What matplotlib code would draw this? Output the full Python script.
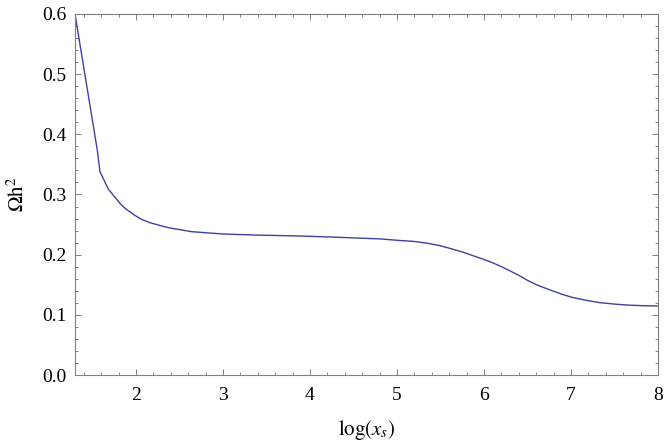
import numpy as np
import matplotlib.pyplot as plt
from matplotlib import rcParams
from matplotlib.ticker import MultipleLocator

rcParams['font.family'] = ['Liberation Serif', 'DejaVu Serif']
rcParams['mathtext.fontset'] = 'stix'

# curve: log(x_s) vs relic density
log_xs = [1.30, 1.556, 1.587, 1.683, 1.75, 1.817, 1.875, 1.970, 2.06, 2.162,
          2.373, 2.641, 3.005, 3.4, 3.886, 4.3, 4.806, 5.036, 5.19, 5.35,
          5.495, 5.62, 5.764, 5.92, 6.07, 6.185, 6.30, 6.415, 6.492, 6.62,
          6.76, 6.90, 7.028, 7.18, 7.334, 7.49, 7.64, 7.82, 8.0]
omega_h2 = [0.600, 0.374, 0.338, 0.309, 0.297, 0.2853, 0.277, 0.267, 0.259, 0.2531,
            0.2448, 0.2382, 0.2343, 0.2325, 0.231, 0.229, 0.2262, 0.2235, 0.2221, 0.219,
            0.2149, 0.210, 0.2039, 0.196, 0.1883, 0.1811, 0.173, 0.1645, 0.1579, 0.149,
            0.1413, 0.134, 0.1285, 0.124, 0.1202, 0.118, 0.1163, 0.1152, 0.1147]

line_color = '#4040a0'
frame_color = '#808080'

fig = plt.figure(figsize=(6.64, 4.46), dpi=100)
ax = fig.add_axes([75 / 664, 71 / 446, 583 / 664, 361 / 446])

ax.plot(log_xs, omega_h2, color=line_color, linewidth=1.0)

ax.set_xlim(1.3, 8)
ax.set_ylim(0, 0.6)

ax.xaxis.set_major_locator(MultipleLocator(1))
ax.xaxis.set_minor_locator(MultipleLocator(0.2))
ax.yaxis.set_major_locator(MultipleLocator(0.1))
ax.yaxis.set_minor_locator(MultipleLocator(0.02))
ax.yaxis.set_major_formatter(plt.FuncFormatter(lambda v, p: f'{v:.1f}'))

for s in ax.spines.values():
    s.set_color(frame_color)
    s.set_linewidth(0.8)

ax.tick_params(which='both', direction='in', top=True, right=True,
               color=frame_color, width=0.7, labelsize=14)
ax.tick_params(which='major', length=4.5)
ax.tick_params(which='minor', length=2.5)
ax.tick_params(axis='x', which='major', pad=9)
ax.tick_params(axis='y', which='major', pad=6)

ax.set_xlabel(r'$\log(x_s)$', fontsize=15, labelpad=10)
ax.set_ylabel(r'$\Omega\mathrm{h}^2$', fontsize=15, labelpad=10)

fig.savefig('out.png', dpi=100)
